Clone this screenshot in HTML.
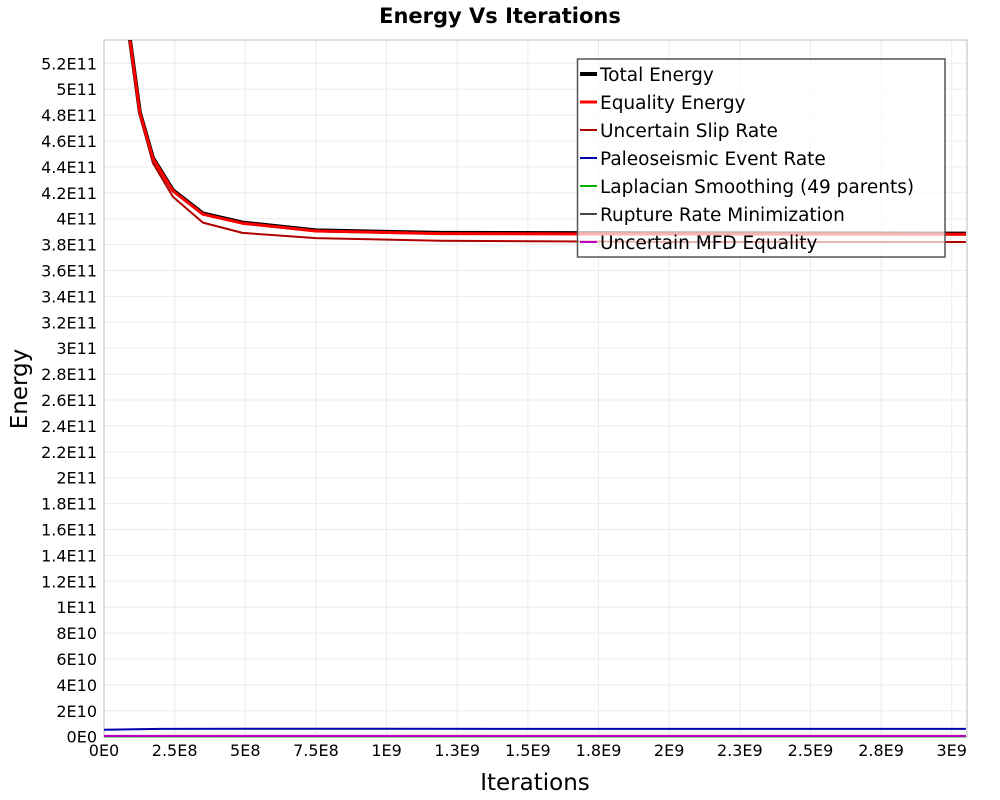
<!DOCTYPE html>
<html><head><meta charset="utf-8"><style>
html,body{margin:0;padding:0;background:#fff;}
svg{display:block;font-family:"DejaVu Sans","Liberation Sans",sans-serif;}
</style></head><body>
<svg id="chart" width="1000" height="800">
<text x="500" y="23" text-anchor="middle" font-size="21" font-weight="bold">Energy Vs Iterations</text>
<g id="grid"></g>
<rect x="104" y="40" width="863" height="697" fill="none" stroke="#bbb"/>
<g id="yticks"></g>
<g id="xticks"></g>
<g id="series"></g>
<text x="535" y="790" text-anchor="middle" font-size="23">Iterations</text>
<text transform="translate(27,389) rotate(-90)" text-anchor="middle" font-size="23">Energy</text>
<g id="legend"></g>
</svg>
<script>
const xTickLabels=["0E0","2.5E8","5E8","7.5E8","1E9","1.3E9","1.5E9","1.8E9","2E9","2.3E9","2.5E9","2.8E9","3E9"];
const yTickLabels=["0E0","2E10","4E10","6E10","8E10","1E11","1.2E11","1.4E11","1.6E11","1.8E11","2E11","2.2E11","2.4E11","2.6E11","2.8E11","3E11","3.2E11","3.4E11","3.6E11","3.8E11","4E11","4.2E11","4.4E11","4.6E11","4.8E11","5E11","5.2E11"];
const iters=[9.2e7,1.27e8,1.73e8,2.44e8,3.5e8,4.9e8,7.5e8,1.19e9,2e9,3.05e9];
const totalEnergy=[5.38e11,4.82e11,4.47e11,4.22e11,4.04e11,3.97e11,3.91e11,3.89e11,3.887e11,3.885e11];
const equalityEnergy=[5.375e11,4.815e11,4.465e11,4.215e11,4.035e11,3.965e11,3.905e11,3.885e11,3.882e11,3.88e11];
const slipRate=[5.37e11,4.8e11,4.43e11,4.17e11,3.97e11,3.89e11,3.85e11,3.83e11,3.82e11,3.82e11];
const paleoIters=[0,2e8,5e8,1e9,2e9,3.05e9];
const paleoRate=[5.3e9,6e9,6.1e9,6.1e9,6e9,6e9];
const flatIters=[0,3.05e9];
const laplacian=[2e8,2e8];
const ruptureMin=[5e8,5e8];
const mfdEq=[6e8,6e8];
const NS="http://www.w3.org/2000/svg";
const X0=104,X1=967,Y0=736.7,YT=40;
const xMax=3.054e9,yMax=(Y0-YT)/25.9*2e10;
const xs=v=>X0+v/xMax*(X1-X0);
const ys=v=>Y0-v/yMax*(Y0-YT);
function mk(t,a,p){const e=document.createElementNS(NS,t);for(const k in a)e.setAttribute(k,a[k]);p.appendChild(e);return e;}
const grid=document.getElementById('grid'),yt=document.getElementById('yticks'),xt=document.getElementById('xticks');
yTickLabels.forEach((l,i)=>{const y=ys(i*2e10);
 const g=mk('line',{x1:X0,x2:X1,y1:y,y2:y,stroke:'#ebebeb'},grid);
 
 
 const t=mk('text',{x:97,y:y+6,'text-anchor':'end','font-size':16},yt);t.textContent=l;
 
 });
xTickLabels.forEach((l,i)=>{const x=xs(i*2.5e8);
 const g=mk('line',{x1:x,x2:x,y1:YT,y2:Y0,stroke:'#ebebeb'},grid);
 
 
 const t=mk('text',{x:x,y:756,'text-anchor':'middle','font-size':16},xt);t.textContent=l;
 
 });
const ser=document.getElementById('series');
mk('clipPath',{id:'cp'},ser).appendChild(Object.assign(document.createElementNS(NS,'rect'),{}));
document.querySelector('#cp rect')||0;
const cr=document.createElementNS(NS,'rect');cr.setAttribute('x',X0);cr.setAttribute('y',YT);cr.setAttribute('width',X1-X0);cr.setAttribute('height',Y0-YT+2);
document.getElementById('cp').innerHTML='';document.getElementById('cp').appendChild(cr);
function line(xv,yv,col,w,name){const d=xv.map((x,i)=>(i?'L':'M')+xs(x).toFixed(1)+','+ys(yv[i]).toFixed(1)).join('');
 const p=mk('path',{d:d,fill:'none',stroke:col,'stroke-width':w,'clip-path':'url(#cp)','stroke-linejoin':'round'},ser);
 
 }
line(flatIters,laplacian,'#00b000',2,'laplacian-line');
line(flatIters,ruptureMin,'#444',2,'rupture-rate-line');
line(flatIters,mfdEq,'#c000c0',2,'mfd-equality-line');
line(paleoIters,paleoRate,'#0000b0',2,'paleoseismic-line');
line(iters,slipRate,'#b00000',2,'slip-rate-line');
line(iters,totalEnergy,'#000',4,'total-energy-line');
line(iters,equalityEnergy,'#ff0000',3,'equality-energy-line');
const lg=document.getElementById('legend');
const lb=mk('rect',{x:577.5,y:59,width:367.5,height:198,fill:'rgba(255,255,255,0.7)',stroke:'#555','stroke-width':1.5},lg);


const legNames=["Total Energy","Equality Energy","Uncertain Slip Rate","Paleoseismic Event Rate","Laplacian Smoothing (49 parents)","Rupture Rate Minimization","Uncertain MFD Equality"];
const legCols=["#000","#ff0000","#b00000","#0000b0","#00b000","#444","#c000c0"];
const legW=[4,3,2,2,2,2,2];
legNames.forEach((n,i)=>{const y=74+i*28;
 const l=mk('line',{x1:580,x2:597,y1:y,y2:y,stroke:legCols[i],'stroke-width':legW[i]},lg);
 
 
 const t=mk('text',{x:600,y:y+7,'font-size':18.5},lg);t.textContent=n;
 
 });
</script>
</body></html>
